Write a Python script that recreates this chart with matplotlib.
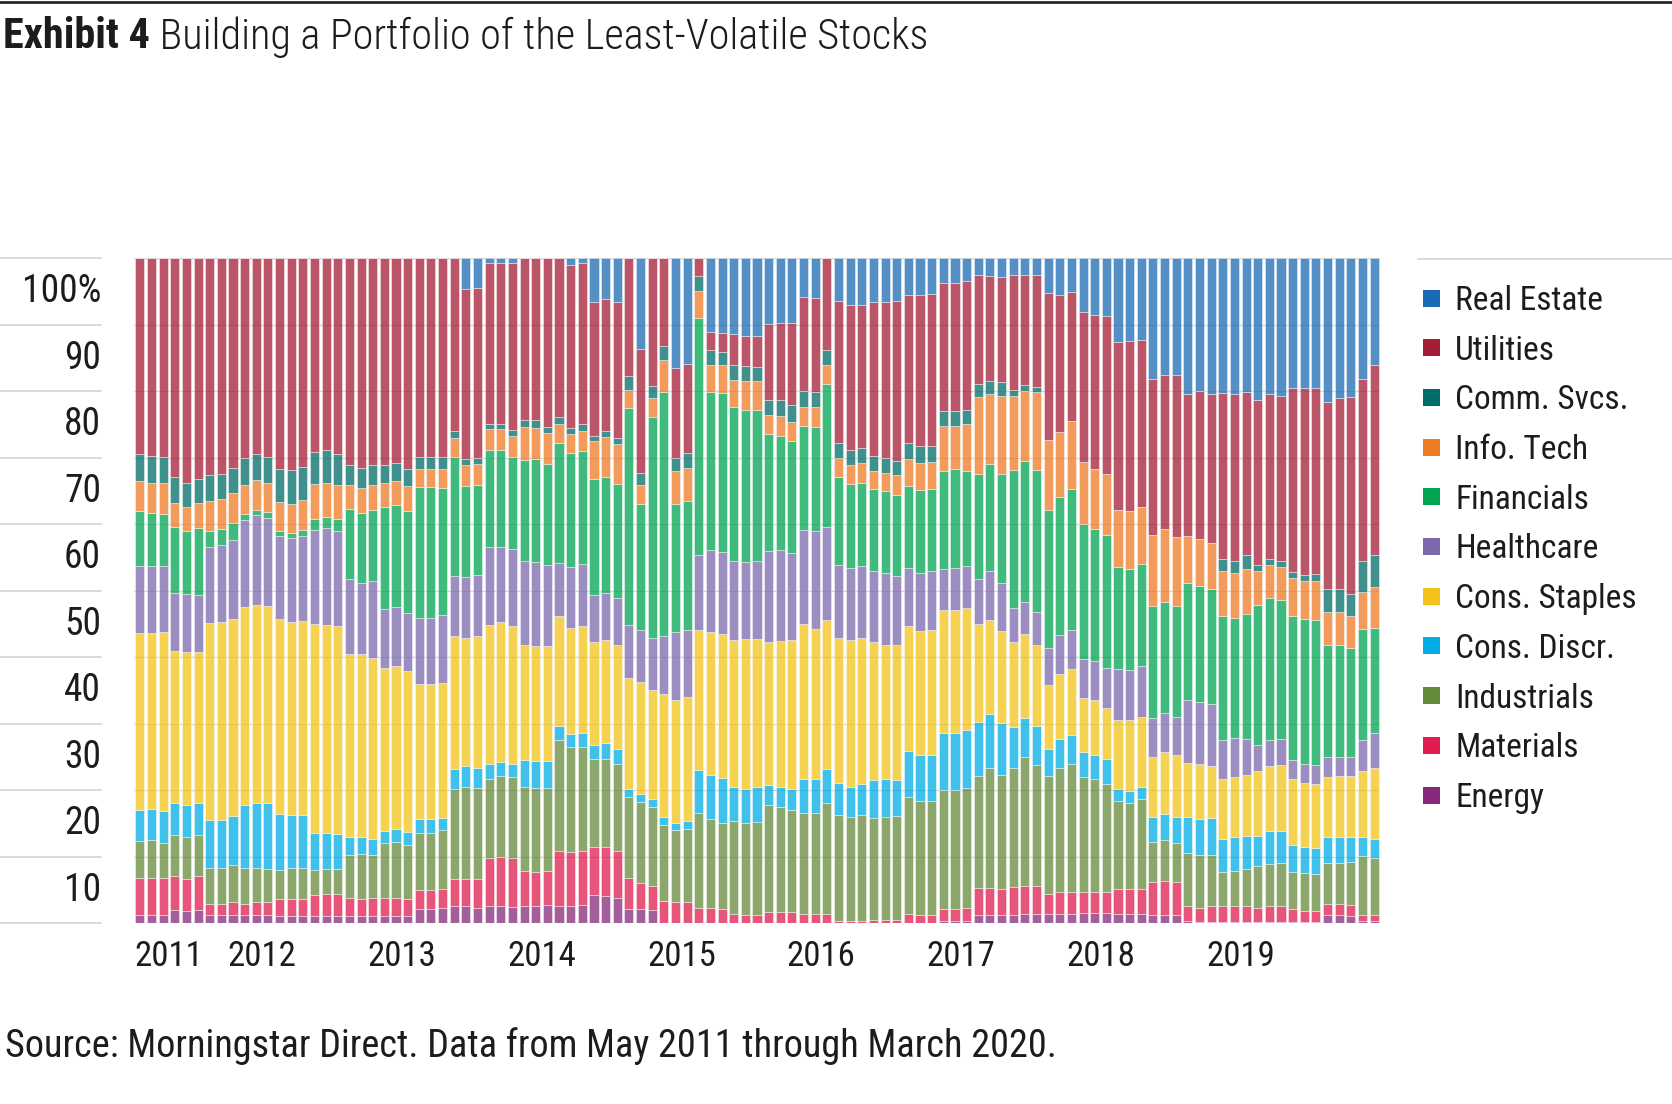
import numpy as np
import matplotlib
matplotlib.use("Agg")
import matplotlib.pyplot as plt
from matplotlib import transforms
from matplotlib.patches import Rectangle
from matplotlib.lines import Line2D
from matplotlib import font_manager as fm

# ---------------- data (share of portfolio, %, May 2011 .. Mar 2020) ----------------
years = [2011, 2012, 2013, 2014, 2015, 2016, 2017, 2018, 2019]
year_first_bar = [0, 8, 20, 32, 44, 56, 68, 80, 92]
y_ticks = [10, 20, 30, 40, 50, 60, 70, 80, 90, 100]
y_tick_labels = ["10", "20", "30", "40", "50", "60", "70", "80", "90", "100%"]

sectors = ["Energy", "Materials", "Industrials", "Cons. Discr.", "Cons. Staples",
           "Healthcare", "Financials", "Info. Tech", "Comm. Svcs.", "Utilities", "Real Estate"]

energy = [1.2,1.2,1.2, 2.0,1.8,2.0, 1.2,1.2,1.2, 1.2,1.2,1.2, 1.1,1.1,1.1, 1.1,1.1,1.1,
          1.1,1.1,1.1, 1.1,1.1,1.1, 2.1,2.1,2.3, 2.5,2.5,2.3, 2.6,2.6,2.4, 2.6,2.6,2.7,
          2.6,2.6,2.7, 4.2,4.0,3.7, 2.1,2.1,2.0, 0,0,0, 0,0,0, 0,0,0, 0,0,0, 0,0,0,
          0,0,0, 0,0,0, 0,0,0, 0.3,0.3,0.3, 1.2,1.2,1.2, 1.2,1.3,1.3, 1.4,1.4,1.4,
          1.5,1.5,1.5, 1.3,1.3,1.3, 1.2,1.2,1.2, 0.3,0.2,0.2, 0.2,0.2,0.2, 0.2,0.2,0.2,
          0.2,0.2,0.2, 1.2,1.2,1.0, 0.3,0.3]
materials = [5.5,5.6,5.5, 5.0,4.8,5.0, 1.6,1.6,1.9, 1.6,1.9,1.9, 2.5,2.5,2.5, 3.1,3.3,3.3,
             2.6,2.5,2.7, 2.7,2.7,2.5, 2.9,2.9,2.8, 4.1,4.1,4.3, 7.2,7.4,7.4, 5.2,5.1,5.1,
             8.3,8.1,8.2, 7.2,7.4,7.2, 4.7,3.9,3.5, 3.3,3.1,3.2, 2.3,2.3,2.1, 1.3,1.2,1.2,
             1.6,1.6,1.6, 1.3,1.4,1.4, 0.3,0.3,0.3, 0.5,0.5,0.5, 1.3,1.2,1.2, 1.8,1.8,2.0,
             4.0,4.0,3.9, 4.2,4.2,4.2, 3.0,3.2,3.2, 3.1,3.1,3.2, 3.8,3.8,3.8, 5.0,5.1,4.9,
             2.2,2.1,2.3, 2.3,2.3,2.4, 2.1,2.3,2.4, 1.9,1.6,1.6, 1.7,1.7,1.7, 0.9,0.9]
industrials = [5.7,5.7,5.3, 6.3,6.3,6.2, 5.5,5.5,5.6, 5.5,5.2,5.0, 4.4,4.7,4.7, 3.8,3.7,3.7,
               6.5,6.8,6.4, 8.2,8.4,8.2, 8.5,8.5,8.9, 13.6,13.9,13.7, 11.9,12.1,12.1,
               12.7,12.6,12.5, 16.6,15.7,15.6, 13.2,13.2,13.0, 12.1,12.2,11.9, 11.5,10.9,11.0,
               14.2,13.3,13.0, 14.0,13.9,14.0, 16.1,15.8,15.4, 15.3,15.2,16.7, 16.0,15.6,16.0,
               15.3,15.4,15.6, 17.7,17.1,17.1, 17.9,17.9,18.0, 16.9,18.1,17.2, 17.9,19.4,18.2,
               17.7,18.7,19.3, 17.3,17.0,16.2, 13.2,13.0,13.6, 6.0,6.2,5.9, 8.0,8.0,7.8,
               5.1,5.3,5.5, 6.2,6.4,6.4, 5.5,5.7,5.6, 6.1,6.1,6.4, 8.9,8.6]
cons_discr = [4.6,4.7,4.9, 4.8,4.8,4.9, 7.2,7.2,7.4, 9.5,9.7,10.0, 8.4,8.0,8.0, 5.5,5.4,5.3,
              2.8,2.6,2.5, 1.9,1.9,1.9, 2.1,2.1,1.8, 2.9,3.1,3.0, 2.2,2.1,2.0, 4.0,4.0,4.0,
              2.1,2.0,2.1, 2.2,2.4,2.3, 1.3,1.2,1.3, 1.1,1.1,1.1, 6.5,6.7,6.7, 5.1,5.1,5.3,
              3.1,3.1,3.2, 5.1,5.1,5.0, 4.8,4.5,4.6, 5.7,5.7,5.4, 6.9,6.9,6.9, 8.6,8.6,8.7,
              8.2,8.1,7.8, 6.1,5.9,5.9, 4.1,4.4,4.4, 3.8,3.6,3.7, 1.9,1.7,1.7, 3.7,3.9,3.9,
              5.4,5.4,5.5, 5.1,5.2,5.0, 4.6,4.9,4.9, 4.2,3.9,3.9, 3.9,3.9,3.8, 2.8,2.8]
cons_staples = [26.6,26.4,26.8, 22.8,23.0,22.6, 29.6,29.7,29.6, 29.7,29.8,29.5, 29.3,28.9,29.1,
                31.4,31.3,31.2, 27.5,27.5,27.1, 24.4,24.5,24.2, 20.3,20.3,20.3, 20.0,19.2,19.8,
                20.9,21.0,20.7, 17.3,17.3,17.3, 16.5,16.0,16.0, 15.5,15.6,15.6, 16.6,16.8,16.4,
                18.5,18.5,18.7, 21.1,21.4,21.6, 22.1,22.5,22.2, 21.5,21.9,22.4, 23.2,22.5,22.4,
                21.7,22.2,21.9, 20.7,20.2,20.3, 18.7,18.7,18.8, 18.4,18.5,18.3, 14.6,14.1,13.8,
                12.9,12.6,12.2, 9.6,9.8,9.9, 8.1,8.3,7.7, 10.4,10.8,10.6, 9.1,9.3,9.3,
                8.1,8.2,7.8, 9.0,9.0,9.2, 9.7,9.8,9.8, 9.9,9.7,9.6, 9.1,9.2,9.2, 10.0,10.7]
healthcare = [10.1,10.1,10.0, 8.7,8.7,8.6, 11.4,11.7,11.9, 13.1,13.5,13.3, 12.5,12.7,12.8,
              14.2,14.6,14.4, 11.2,10.6,11.6, 8.9,8.9,8.7, 10.0,10.0,10.2, 9.1,9.2,9.3,
              11.8,11.4,11.7, 12.7,12.7,12.2, 8.0,9.1,9.4, 7.0,7.0,7.1, 8.0,7.9,7.8,
              8.7,10.1,10.0, 11.2,12.4,12.4, 12.0,11.6,11.8, 13.7,13.7,13.0, 14.2,14.8,14.0,
              11.0,10.8,10.9, 10.8,10.9,10.4, 8.8,8.8,9.0, 6.2,6.3,6.4, 6.8,7.4,7.2,
              5.0,4.9,5.0, 5.6,5.8,5.8, 5.9,5.9,6.0, 7.6,7.5,7.6, 5.8,5.9,5.8, 9.5,9.4,9.3,
              5.8,5.8,5.4, 3.9,3.9,4.0, 2.8,2.8,2.8, 2.9,2.8,2.8, 4.6,5.2]
financials = [8.2,7.9,7.8, 10.0,9.6,10.1, 2.4,2.4,2.5, 0.9,0.8,0.9, 0.8,0.7,0.9, 1.7,1.6,1.7,
              10.6,10.6,10.7, 15.3,15.3,15.3, 19.6,19.6,19.1, 17.9,13.7,13.5, 14.5,14.5,13.8,
              15.1,15.4,15.2, 18.1,17.2,17.0, 17.4,17.4,17.1, 32.6,18.9,33.2, 36.7,19.3,19.4,
              35.7,23.7,23.9, 23.1,22.8,22.6, 17.5,17.2,16.9, 15.6,15.6,21.5, 13.2,12.6,12.5,
              12.2,12.2,12.2, 12.3,12.4,12.3, 14.7,14.8,14.3, 15.8,16.1,16.4, 20.8,21.2,21.3,
              20.7,20.7,21.2, 20.3,19.8,20.1, 15.3,15.1,15.4, 16.9,16.7,16.7, 17.6,17.4,17.4,
              18.7,18.1,18.8, 21.1,21.4,20.8, 21.7,21.8,21.9, 16.9,16.9,16.5, 16.7,15.9]
info_tech = [4.6,4.6,4.7, 3.6,3.6,3.7, 4.5,4.4,4.6, 4.4,4.5,4.4, 4.3,4.4,4.5, 5.2,5.2,5.2,
             3.6,3.7,3.7, 3.7,3.7,3.8, 2.8,2.8,2.9, 2.9,3.1,3.1, 3.2,3.2,3.2, 5.0,4.8,4.7,
             2.9,2.8,3.0, 5.8,6.1,6.1, 2.8,2.8,2.8, 4.9,5.0,5.0, 4.0,4.1,4.2, 4.1,4.4,4.4,
             2.9,3.0,2.8, 2.9,3.0,2.9, 2.9,2.8,3.0, 2.8,2.8,2.9, 4.1,4.0,4.0, 6.9,6.6,7.1,
             11.6,10.6,11.8, 11.1,10.5,11.7, 10.6,9.8,10.3, 9.3,9.1,9.1, 8.6,8.7,8.6,
             10.7,10.9,10.3, 7.1,7.0,6.8, 6.7,6.7,6.7, 5.1,4.9,5.0, 5.7,5.7,5.9, 4.9,4.9,4.8,
             5.5,6.2]
comm_svcs = [4.1,4.1,3.9, 3.8,3.6,3.7, 3.9,3.8,3.7, 4.0,3.9,3.9, 4.9,5.1,5.0, 4.9,4.9,4.7,
             2.9,3.0,3.0, 2.6,2.6,2.6, 1.8,1.8,1.8, 1.0,0.9,0.9, 0.8,0.8,0.9, 1.0,1.1,0.9,
             1.0,1.0,1.0, 0.8,0.9,0.9, 2.0,1.9,1.8, 2.0,1.9,2.3, 2.3,2.2,2.0, 2.2,2.2,2.1,
             2.2,2.3,2.6, 2.4,2.2,2.2, 2.3,2.4,2.2, 2.3,2.3,2.2, 2.4,2.6,2.5, 2.2,2.2,2.0,
             2.0,1.9,2.1, 1.0,0.9,0.8, 0,0,0, 0,0,0, 0,0,0, 0,0,0, 0,0,0,
             1.9,1.9,2.1, 0.9,0.9,1.0, 0.9,1.0,1.0, 3.6,3.6,3.3, 4.8,4.7]
utilities = [29.4,29.7,29.9, 33.0,33.8,33.2, 32.7,32.5,31.6, 30.1,29.5,29.9, 31.8,31.9,31.4,
             29.1,28.9,29.4, 31.2,31.6,31.2, 31.2,30.9,31.7, 29.9,29.9,29.9, 26.0,25.7,25.6,
             24.1,24.1,25.0, 24.4,24.4,25.4, 23.9,24.4,24.2, 20.1,19.8,20.4, 17.8,18.6,19.3,
             13.3,13.6,13.4, 2.7,2.7,2.8, 4.7,4.6,4.6, 11.4,11.6,12.4, 14.2,14.2,13.9,
             21.3,21.8,21.6, 23.1,23.4,24.1, 22.3,22.8,22.8, 19.3,19.3,19.5, 16.3,15.8,15.7,
             17.2,16.5,16.9, 22.0,20.7,19.4, 22.6,23.2,23.8, 25.3,25.6,25.0, 23.4,23.2,24.4,
             21.4,22.3,22.4, 24.9,25.0,24.6, 24.9,24.9,24.7, 27.7,28.1,28.0, 28.1,28.6,29.6,
             27.3,28.6]
real_estate = [0,0,0, 0,0,0, 0,0,0, 0,0,0, 0,0,0, 0,0,0, 0,0,0, 0,0,0, 0,0,0,
               0,4.6,4.5, 0.8,0.8,0.8, 0,0,0, 0,1.1,0.8, 6.6,6.2,6.6, 0,13.7,0,
               0,16.5,15.9, 0,11.2,11.3, 11.4,11.7,11.8, 10.0,9.8,9.7, 5.8,6.0,0,
               6.5,7.0,7.0, 6.6,6.6,6.4, 5.5,5.5,5.4, 3.7,3.7,3.4, 2.6,2.7,2.9, 2.6,2.6,2.5,
               5.3,5.5,5.1, 8.1,8.5,8.7, 12.6,12.5,12.4, 18.2,17.6,17.6, 20.4,20.0,20.5,
               20.3,20.5,20.1, 21.3,20.4,20.8, 19.5,19.5,19.5, 21.6,21.1,20.9, 18.2,16.1]

series = [energy, materials, industrials, cons_discr, cons_staples, healthcare,
          financials, info_tech, comm_svcs, utilities, real_estate]
colors = ["#86287b", "#e11c4f", "#658a3b", "#00ade6", "#f3c31a", "#7c69ad",
          "#00a551", "#ee7a24", "#006d68", "#a51d36", "#1b6ab4"]

# ---------------- fonts ----------------
avail = {f.name for f in fm.fontManager.ttflist}
def pick(*names):
    for n in names:
        if n in avail:
            return n
    return "DejaVu Sans"
COND = pick("Liberation Sans Narrow", "Roboto Condensed", "Open Sans Condensed", "DejaVu Sans")
plt.rcParams["font.family"] = [COND, "DejaVu Sans"]
TXT = "#1c1c1c"

W, H = 1672, 1104
fig = plt.figure(figsize=(W / 100, H / 100), dpi=100)
fig.patch.set_facecolor("white")

# plot area: bars from x=135..1379 px, 0% at y=923 px, 100% at y=258 px
ax = fig.add_axes([134 / W, 1 - 923 / H, (1380 - 134) / W, (923 - 258) / H])
n = len(energy)
xs = np.arange(n)
bottom = np.zeros(n)
for vals, col in zip(series, colors):
    v = np.array(vals, dtype=float)
    ax.bar(xs, v, bottom=bottom, width=0.78, color=col, alpha=0.75,
           edgecolor="white", linewidth=0.4, zorder=2)
    bottom += v
ax.set_xlim(-0.5, n - 0.5)
ax.set_ylim(0, 100)
ax.axis("off")

GRID = "#d4d4d4"
for v in range(10, 101, 10):
    ax.axhline(v, color=GRID, lw=1.0, zorder=1)

# gridlines + labels in the left label area
trans = transforms.blended_transform_factory(fig.transFigure, ax.transData)
for v in range(0, 101, 10):
    fig.add_artist(Line2D([0, 101 / W], [v, v], transform=trans, color=GRID, lw=1.2))
for v, lab in zip(y_ticks, y_tick_labels):
    fig.text(101 / W, v - 5.1, lab, transform=trans, ha="right", va="center",
             fontsize=27, color=TXT)

# x (year) labels, left-aligned on first bar of each year
for yr, j in zip(years, year_first_bar):
    ax.text(j - 0.45, -5.0, str(yr), ha="left", va="center", fontsize=25,
            color=TXT, clip_on=False)

# top rule
fig.add_artist(Line2D([0, 1], [1 - 1.5 / H, 1 - 1.5 / H], transform=fig.transFigure,
                      color="#2a2a2a", lw=2.0))

# title (fit to width)
renderer = fig.canvas.get_renderer()
bold_part = "Exhibit 4"
rest_part = " Building a Portfolio of the Least-Volatile Stocks"
base = 30
t1 = fig.text(0, 0, bold_part, fontsize=base, fontweight="bold")
t2 = fig.text(0, 0, rest_part, fontsize=base, fontweight="light")
wtot = t1.get_window_extent(renderer).width + t2.get_window_extent(renderer).width
t1.remove(); t2.remove()
tsize = min(36, base * (928 - 3) / wtot)
ty = 1 - 37 / H
tb = fig.text(3 / W, ty, bold_part, fontsize=tsize, fontweight="bold", color=TXT,
              ha="left", va="center")
bb = tb.get_window_extent(renderer)
fig.text(bb.x1 / W, ty, rest_part, fontsize=tsize, fontweight="light", color=TXT,
         ha="left", va="center")

# legend (top = Real Estate)
fig.add_artist(Line2D([1418 / W, 1], [1 - 259 / H, 1 - 259 / H], transform=fig.transFigure,
                      color=GRID, lw=1.2))
leg_names = sectors[::-1]
leg_cols = colors[::-1]
for i, (nm, col) in enumerate(zip(leg_names, leg_cols)):
    yc = 298 + 49.7 * i
    fig.add_artist(Rectangle((1423 / W, 1 - (yc + 8.5) / H), 17 / W, 17 / H,
                             transform=fig.transFigure, facecolor=col, edgecolor="none"))
    fig.text(1455 / W, 1 - (yc + 3) / H, nm, fontsize=24, color=TXT, ha="left", va="center")

# source note (fit to width)
src = "Source: Morningstar Direct. Data from May 2011 through March 2020."
ts = fig.text(0, 0, src, fontsize=30)
ws = ts.get_window_extent(renderer).width
ts.remove()
ssize = min(32, 30 * (1059 - 5) / ws)
fig.text(5 / W, 1 - 1046 / H, src, fontsize=ssize, color=TXT, ha="left", va="center")

fig.savefig("out.png", dpi=100, facecolor="white")
